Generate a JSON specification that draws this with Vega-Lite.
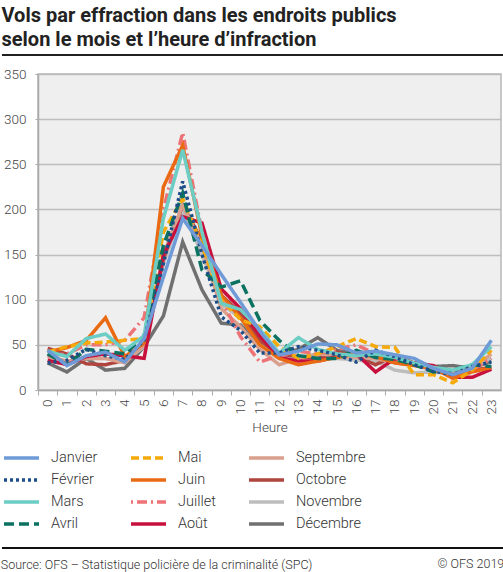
{
  "$schema": "https://vega.github.io/schema/vega-lite/v6.json",
  "padding": {"left": 0, "top": 4, "right": 0, "bottom": 0},
  "background": "white",
  "title": {
    "text": "© OFS 2019",
    "orient": "bottom",
    "anchor": "end",
    "offset": -14,
    "dx": -2,
    "font": "Roboto",
    "fontSize": 12.5,
    "fontWeight": 300,
    "color": "#333"
  },
  "vconcat": [
    {
      "title": {
        "text": "Source: OFS – Statistique policière de la criminalité (SPC)",
        "orient": "bottom",
        "anchor": "start",
        "offset": 10,
        "font": "Roboto",
        "fontSize": 12.5,
        "fontWeight": 300,
        "color": "#333"
      },
      "vconcat": [
        {
          "title": {
            "text": ["Vols par effraction dans les endroits publics", "selon le mois et l’heure d’infraction"],
            "anchor": "start",
            "frame": "bounds",
            "font": "Roboto",
            "fontSize": 20,
            "fontWeight": "bold",
            "lineHeight": 24,
            "color": "#222",
            "offset": 5
          },
          "width": 463,
          "height": 316,
          "data": {
            "values": [
              {"mois": "Décembre", "heure": 0, "vols": 30}, {"mois": "Décembre", "heure": 1, "vols": 20}, {"mois": "Décembre", "heure": 2, "vols": 35}, {"mois": "Décembre", "heure": 3, "vols": 22}, {"mois": "Décembre", "heure": 4, "vols": 24}, {"mois": "Décembre", "heure": 5, "vols": 48}, {"mois": "Décembre", "heure": 6, "vols": 82}, {"mois": "Décembre", "heure": 7, "vols": 164}, {"mois": "Décembre", "heure": 8, "vols": 111}, {"mois": "Décembre", "heure": 9, "vols": 74}, {"mois": "Décembre", "heure": 10, "vols": 72}, {"mois": "Décembre", "heure": 11, "vols": 52}, {"mois": "Décembre", "heure": 12, "vols": 40}, {"mois": "Décembre", "heure": 13, "vols": 45}, {"mois": "Décembre", "heure": 14, "vols": 58}, {"mois": "Décembre", "heure": 15, "vols": 44}, {"mois": "Décembre", "heure": 16, "vols": 40}, {"mois": "Décembre", "heure": 17, "vols": 38}, {"mois": "Décembre", "heure": 18, "vols": 32}, {"mois": "Décembre", "heure": 19, "vols": 30}, {"mois": "Décembre", "heure": 20, "vols": 26}, {"mois": "Décembre", "heure": 21, "vols": 27}, {"mois": "Décembre", "heure": 22, "vols": 24}, {"mois": "Décembre", "heure": 23, "vols": 32},
              {"mois": "Novembre", "heure": 0, "vols": 40}, {"mois": "Novembre", "heure": 1, "vols": 30}, {"mois": "Novembre", "heure": 2, "vols": 35}, {"mois": "Novembre", "heure": 3, "vols": 35}, {"mois": "Novembre", "heure": 4, "vols": 32}, {"mois": "Novembre", "heure": 5, "vols": 48}, {"mois": "Novembre", "heure": 6, "vols": 140}, {"mois": "Novembre", "heure": 7, "vols": 200}, {"mois": "Novembre", "heure": 8, "vols": 150}, {"mois": "Novembre", "heure": 9, "vols": 95}, {"mois": "Novembre", "heure": 10, "vols": 80}, {"mois": "Novembre", "heure": 11, "vols": 50}, {"mois": "Novembre", "heure": 12, "vols": 35}, {"mois": "Novembre", "heure": 13, "vols": 36}, {"mois": "Novembre", "heure": 14, "vols": 40}, {"mois": "Novembre", "heure": 15, "vols": 35}, {"mois": "Novembre", "heure": 16, "vols": 33}, {"mois": "Novembre", "heure": 17, "vols": 32}, {"mois": "Novembre", "heure": 18, "vols": 22}, {"mois": "Novembre", "heure": 19, "vols": 19}, {"mois": "Novembre", "heure": 20, "vols": 20}, {"mois": "Novembre", "heure": 21, "vols": 18}, {"mois": "Novembre", "heure": 22, "vols": 25}, {"mois": "Novembre", "heure": 23, "vols": 35},
              {"mois": "Octobre", "heure": 0, "vols": 46}, {"mois": "Octobre", "heure": 1, "vols": 40}, {"mois": "Octobre", "heure": 2, "vols": 29}, {"mois": "Octobre", "heure": 3, "vols": 28}, {"mois": "Octobre", "heure": 4, "vols": 33}, {"mois": "Octobre", "heure": 5, "vols": 50}, {"mois": "Octobre", "heure": 6, "vols": 145}, {"mois": "Octobre", "heure": 7, "vols": 205}, {"mois": "Octobre", "heure": 8, "vols": 165}, {"mois": "Octobre", "heure": 9, "vols": 105}, {"mois": "Octobre", "heure": 10, "vols": 85}, {"mois": "Octobre", "heure": 11, "vols": 55}, {"mois": "Octobre", "heure": 12, "vols": 40}, {"mois": "Octobre", "heure": 13, "vols": 37}, {"mois": "Octobre", "heure": 14, "vols": 35}, {"mois": "Octobre", "heure": 15, "vols": 42}, {"mois": "Octobre", "heure": 16, "vols": 37}, {"mois": "Octobre", "heure": 17, "vols": 28}, {"mois": "Octobre", "heure": 18, "vols": 38}, {"mois": "Octobre", "heure": 19, "vols": 30}, {"mois": "Octobre", "heure": 20, "vols": 25}, {"mois": "Octobre", "heure": 21, "vols": 18}, {"mois": "Octobre", "heure": 22, "vols": 22}, {"mois": "Octobre", "heure": 23, "vols": 25},
              {"mois": "Septembre", "heure": 0, "vols": 37}, {"mois": "Septembre", "heure": 1, "vols": 32}, {"mois": "Septembre", "heure": 2, "vols": 35}, {"mois": "Septembre", "heure": 3, "vols": 35}, {"mois": "Septembre", "heure": 4, "vols": 30}, {"mois": "Septembre", "heure": 5, "vols": 50}, {"mois": "Septembre", "heure": 6, "vols": 150}, {"mois": "Septembre", "heure": 7, "vols": 205}, {"mois": "Septembre", "heure": 8, "vols": 160}, {"mois": "Septembre", "heure": 9, "vols": 90}, {"mois": "Septembre", "heure": 10, "vols": 70}, {"mois": "Septembre", "heure": 11, "vols": 45}, {"mois": "Septembre", "heure": 12, "vols": 28}, {"mois": "Septembre", "heure": 13, "vols": 35}, {"mois": "Septembre", "heure": 14, "vols": 40}, {"mois": "Septembre", "heure": 15, "vols": 38}, {"mois": "Septembre", "heure": 16, "vols": 36}, {"mois": "Septembre", "heure": 17, "vols": 35}, {"mois": "Septembre", "heure": 18, "vols": 30}, {"mois": "Septembre", "heure": 19, "vols": 28}, {"mois": "Septembre", "heure": 20, "vols": 22}, {"mois": "Septembre", "heure": 21, "vols": 18}, {"mois": "Septembre", "heure": 22, "vols": 24}, {"mois": "Septembre", "heure": 23, "vols": 40},
              {"mois": "Août", "heure": 0, "vols": 33}, {"mois": "Août", "heure": 1, "vols": 28}, {"mois": "Août", "heure": 2, "vols": 37}, {"mois": "Août", "heure": 3, "vols": 40}, {"mois": "Août", "heure": 4, "vols": 38}, {"mois": "Août", "heure": 5, "vols": 35}, {"mois": "Août", "heure": 6, "vols": 150}, {"mois": "Août", "heure": 7, "vols": 192}, {"mois": "Août", "heure": 8, "vols": 185}, {"mois": "Août", "heure": 9, "vols": 112}, {"mois": "Août", "heure": 10, "vols": 90}, {"mois": "Août", "heure": 11, "vols": 60}, {"mois": "Août", "heure": 12, "vols": 36}, {"mois": "Août", "heure": 13, "vols": 32}, {"mois": "Août", "heure": 14, "vols": 32}, {"mois": "Août", "heure": 15, "vols": 37}, {"mois": "Août", "heure": 16, "vols": 40}, {"mois": "Août", "heure": 17, "vols": 20}, {"mois": "Août", "heure": 18, "vols": 35}, {"mois": "Août", "heure": 19, "vols": 30}, {"mois": "Août", "heure": 20, "vols": 27}, {"mois": "Août", "heure": 21, "vols": 14}, {"mois": "Août", "heure": 22, "vols": 14}, {"mois": "Août", "heure": 23, "vols": 23},
              {"mois": "Juillet", "heure": 0, "vols": 38}, {"mois": "Juillet", "heure": 1, "vols": 40}, {"mois": "Juillet", "heure": 2, "vols": 50}, {"mois": "Juillet", "heure": 3, "vols": 50}, {"mois": "Juillet", "heure": 4, "vols": 55}, {"mois": "Juillet", "heure": 5, "vols": 80}, {"mois": "Juillet", "heure": 6, "vols": 200}, {"mois": "Juillet", "heure": 7, "vols": 285}, {"mois": "Juillet", "heure": 8, "vols": 175}, {"mois": "Juillet", "heure": 9, "vols": 100}, {"mois": "Juillet", "heure": 10, "vols": 59}, {"mois": "Juillet", "heure": 11, "vols": 31}, {"mois": "Juillet", "heure": 12, "vols": 38}, {"mois": "Juillet", "heure": 13, "vols": 43}, {"mois": "Juillet", "heure": 14, "vols": 40}, {"mois": "Juillet", "heure": 15, "vols": 45}, {"mois": "Juillet", "heure": 16, "vols": 50}, {"mois": "Juillet", "heure": 17, "vols": 40}, {"mois": "Juillet", "heure": 18, "vols": 35}, {"mois": "Juillet", "heure": 19, "vols": 30}, {"mois": "Juillet", "heure": 20, "vols": 22}, {"mois": "Juillet", "heure": 21, "vols": 17}, {"mois": "Juillet", "heure": 22, "vols": 22}, {"mois": "Juillet", "heure": 23, "vols": 35},
              {"mois": "Juin", "heure": 0, "vols": 42}, {"mois": "Juin", "heure": 1, "vols": 47}, {"mois": "Juin", "heure": 2, "vols": 55}, {"mois": "Juin", "heure": 3, "vols": 80}, {"mois": "Juin", "heure": 4, "vols": 37}, {"mois": "Juin", "heure": 5, "vols": 52}, {"mois": "Juin", "heure": 6, "vols": 225}, {"mois": "Juin", "heure": 7, "vols": 271}, {"mois": "Juin", "heure": 8, "vols": 170}, {"mois": "Juin", "heure": 9, "vols": 105}, {"mois": "Juin", "heure": 10, "vols": 80}, {"mois": "Juin", "heure": 11, "vols": 50}, {"mois": "Juin", "heure": 12, "vols": 35}, {"mois": "Juin", "heure": 13, "vols": 28}, {"mois": "Juin", "heure": 14, "vols": 32}, {"mois": "Juin", "heure": 15, "vols": 36}, {"mois": "Juin", "heure": 16, "vols": 40}, {"mois": "Juin", "heure": 17, "vols": 37}, {"mois": "Juin", "heure": 18, "vols": 30}, {"mois": "Juin", "heure": 19, "vols": 27}, {"mois": "Juin", "heure": 20, "vols": 24}, {"mois": "Juin", "heure": 21, "vols": 13}, {"mois": "Juin", "heure": 22, "vols": 20}, {"mois": "Juin", "heure": 23, "vols": 25},
              {"mois": "Mai", "heure": 0, "vols": 42}, {"mois": "Mai", "heure": 1, "vols": 48}, {"mois": "Mai", "heure": 2, "vols": 52}, {"mois": "Mai", "heure": 3, "vols": 53}, {"mois": "Mai", "heure": 4, "vols": 55}, {"mois": "Mai", "heure": 5, "vols": 57}, {"mois": "Mai", "heure": 6, "vols": 175}, {"mois": "Mai", "heure": 7, "vols": 212}, {"mois": "Mai", "heure": 8, "vols": 160}, {"mois": "Mai", "heure": 9, "vols": 100}, {"mois": "Mai", "heure": 10, "vols": 78}, {"mois": "Mai", "heure": 11, "vols": 70}, {"mois": "Mai", "heure": 12, "vols": 48}, {"mois": "Mai", "heure": 13, "vols": 35}, {"mois": "Mai", "heure": 14, "vols": 40}, {"mois": "Mai", "heure": 15, "vols": 48}, {"mois": "Mai", "heure": 16, "vols": 57}, {"mois": "Mai", "heure": 17, "vols": 48}, {"mois": "Mai", "heure": 18, "vols": 47}, {"mois": "Mai", "heure": 19, "vols": 17}, {"mois": "Mai", "heure": 20, "vols": 17}, {"mois": "Mai", "heure": 21, "vols": 8}, {"mois": "Mai", "heure": 22, "vols": 22}, {"mois": "Mai", "heure": 23, "vols": 44},
              {"mois": "Avril", "heure": 0, "vols": 40}, {"mois": "Avril", "heure": 1, "vols": 28}, {"mois": "Avril", "heure": 2, "vols": 45}, {"mois": "Avril", "heure": 3, "vols": 43}, {"mois": "Avril", "heure": 4, "vols": 40}, {"mois": "Avril", "heure": 5, "vols": 60}, {"mois": "Avril", "heure": 6, "vols": 160}, {"mois": "Avril", "heure": 7, "vols": 218}, {"mois": "Avril", "heure": 8, "vols": 133}, {"mois": "Avril", "heure": 9, "vols": 114}, {"mois": "Avril", "heure": 10, "vols": 121}, {"mois": "Avril", "heure": 11, "vols": 77}, {"mois": "Avril", "heure": 12, "vols": 55}, {"mois": "Avril", "heure": 13, "vols": 38}, {"mois": "Avril", "heure": 14, "vols": 35}, {"mois": "Avril", "heure": 15, "vols": 35}, {"mois": "Avril", "heure": 16, "vols": 44}, {"mois": "Avril", "heure": 17, "vols": 36}, {"mois": "Avril", "heure": 18, "vols": 34}, {"mois": "Avril", "heure": 19, "vols": 28}, {"mois": "Avril", "heure": 20, "vols": 20}, {"mois": "Avril", "heure": 21, "vols": 22}, {"mois": "Avril", "heure": 22, "vols": 28}, {"mois": "Avril", "heure": 23, "vols": 26},
              {"mois": "Mars", "heure": 0, "vols": 43}, {"mois": "Mars", "heure": 1, "vols": 37}, {"mois": "Mars", "heure": 2, "vols": 57}, {"mois": "Mars", "heure": 3, "vols": 62}, {"mois": "Mars", "heure": 4, "vols": 44}, {"mois": "Mars", "heure": 5, "vols": 60}, {"mois": "Mars", "heure": 6, "vols": 190}, {"mois": "Mars", "heure": 7, "vols": 266}, {"mois": "Mars", "heure": 8, "vols": 175}, {"mois": "Mars", "heure": 9, "vols": 96}, {"mois": "Mars", "heure": 10, "vols": 89}, {"mois": "Mars", "heure": 11, "vols": 67}, {"mois": "Mars", "heure": 12, "vols": 41}, {"mois": "Mars", "heure": 13, "vols": 58}, {"mois": "Mars", "heure": 14, "vols": 45}, {"mois": "Mars", "heure": 15, "vols": 40}, {"mois": "Mars", "heure": 16, "vols": 38}, {"mois": "Mars", "heure": 17, "vols": 40}, {"mois": "Mars", "heure": 18, "vols": 36}, {"mois": "Mars", "heure": 19, "vols": 30}, {"mois": "Mars", "heure": 20, "vols": 25}, {"mois": "Mars", "heure": 21, "vols": 22}, {"mois": "Mars", "heure": 22, "vols": 28}, {"mois": "Mars", "heure": 23, "vols": 48},
              {"mois": "Février", "heure": 0, "vols": 30}, {"mois": "Février", "heure": 1, "vols": 33}, {"mois": "Février", "heure": 2, "vols": 45}, {"mois": "Février", "heure": 3, "vols": 38}, {"mois": "Février", "heure": 4, "vols": 34}, {"mois": "Février", "heure": 5, "vols": 55}, {"mois": "Février", "heure": 6, "vols": 140}, {"mois": "Février", "heure": 7, "vols": 231}, {"mois": "Février", "heure": 8, "vols": 150}, {"mois": "Février", "heure": 9, "vols": 81}, {"mois": "Février", "heure": 10, "vols": 66}, {"mois": "Février", "heure": 11, "vols": 41}, {"mois": "Février", "heure": 12, "vols": 41}, {"mois": "Février", "heure": 13, "vols": 48}, {"mois": "Février", "heure": 14, "vols": 44}, {"mois": "Février", "heure": 15, "vols": 39}, {"mois": "Février", "heure": 16, "vols": 31}, {"mois": "Février", "heure": 17, "vols": 44}, {"mois": "Février", "heure": 18, "vols": 37}, {"mois": "Février", "heure": 19, "vols": 28}, {"mois": "Février", "heure": 20, "vols": 21}, {"mois": "Février", "heure": 21, "vols": 17}, {"mois": "Février", "heure": 22, "vols": 26}, {"mois": "Février", "heure": 23, "vols": 31},
              {"mois": "Janvier", "heure": 0, "vols": 44}, {"mois": "Janvier", "heure": 1, "vols": 27}, {"mois": "Janvier", "heure": 2, "vols": 38}, {"mois": "Janvier", "heure": 3, "vols": 42}, {"mois": "Janvier", "heure": 4, "vols": 31}, {"mois": "Janvier", "heure": 5, "vols": 57}, {"mois": "Janvier", "heure": 6, "vols": 125}, {"mois": "Janvier", "heure": 7, "vols": 190}, {"mois": "Janvier", "heure": 8, "vols": 160}, {"mois": "Janvier", "heure": 9, "vols": 128}, {"mois": "Janvier", "heure": 10, "vols": 97}, {"mois": "Janvier", "heure": 11, "vols": 65}, {"mois": "Janvier", "heure": 12, "vols": 39}, {"mois": "Janvier", "heure": 13, "vols": 43}, {"mois": "Janvier", "heure": 14, "vols": 51}, {"mois": "Janvier", "heure": 15, "vols": 50}, {"mois": "Janvier", "heure": 16, "vols": 41}, {"mois": "Janvier", "heure": 17, "vols": 43}, {"mois": "Janvier", "heure": 18, "vols": 39}, {"mois": "Janvier", "heure": 19, "vols": 35}, {"mois": "Janvier", "heure": 20, "vols": 24}, {"mois": "Janvier", "heure": 21, "vols": 17}, {"mois": "Janvier", "heure": 22, "vols": 24}, {"mois": "Janvier", "heure": 23, "vols": 55}
            ]
          },
          "layer": [
            {
              "mark": {"type": "line", "strokeJoin": "miter", "strokeCap": "butt"},
              "encoding": {
                "x": {
                  "field": "heure",
                  "type": "quantitative",
                  "scale": {"domain": [-0.5, 23.5], "nice": false, "zero": false},
                  "axis": {
                    "title": "Heure",
                    "values": [0, 1, 2, 3, 4, 5, 6, 7, 8, 9, 10, 11, 12, 13, 14, 15, 16, 17, 18, 19, 20, 21, 22, 23],
                    "tickCount": 30,
                    "labelAngle": 270,
                    "labelAlign": "right",
                    "labelBaseline": "middle",
                    "labelOverlap": false,
                    "labelFlush": false,
                    "labelPadding": 4,
                    "tickOffset": -9.65,
                    "labelOffset": 9.65,
                    "tickSize": 5,
                    "grid": false,
                    "titlePadding": 7
                  }
                },
                "y": {
                  "field": "vols",
                  "type": "quantitative",
                  "scale": {"domain": [0, 350], "nice": false},
                  "axis": {
                    "title": null,
                    "values": [0, 50, 100, 150, 200, 250, 300, 350],
                    "tickCount": 10,
                    "tickSize": 3,
                    "labelPadding": 9
                  }
                },
                "color": {
                  "field": "mois",
                  "type": "nominal",
                  "scale": {
                    "domain": ["Janvier", "Février", "Mars", "Avril", "Mai", "Juin", "Juillet", "Août", "Septembre", "Octobre", "Novembre", "Décembre"],
                    "range": ["#6e9bd8", "#1d4e89", "#6ccdc5", "#0b7160", "#f5a90a", "#ea6a13", "#ed7377", "#c8103c", "#d9a08d", "#b0453f", "#bdbdbd", "#707070"]
                  },
                  "legend": {"title": null}
                },
                "strokeDash": {
                  "field": "mois",
                  "type": "nominal",
                  "scale": {
                    "domain": ["Janvier", "Février", "Mars", "Avril", "Mai", "Juin", "Juillet", "Août", "Septembre", "Octobre", "Novembre", "Décembre"],
                    "range": [[1, 0], [3, 3], [1, 0], [10, 5], [8, 4], [1, 0], [2, 4, 10, 4], [1, 0], [1, 0], [1, 0], [1, 0], [1, 0]]
                  },
                  "legend": {"title": null}
                },
                "strokeWidth": {
                  "field": "mois",
                  "type": "nominal",
                  "scale": {
                    "domain": ["Janvier", "Février", "Mars", "Avril", "Mai", "Juin", "Juillet", "Août", "Septembre", "Octobre", "Novembre", "Décembre"],
                    "range": [3.5, 3.5, 3.5, 3, 2, 2, 2, 3, 3.5, 4.5, 4.5, 3]
                  },
                  "legend": {"title": null}
                }
              }
            },
            {
              "mark": {"type": "rule", "clip": false, "color": "#222", "strokeWidth": 1},
              "encoding": {
                "x": {"datum": -2.366},
                "x2": {"datum": 23.71},
                "y": {"datum": 371}
              }
            },
            {
              "mark": {"type": "rule", "clip": false, "color": "#111", "strokeWidth": 1},
              "encoding": {
                "x": {"datum": -2.366},
                "x2": {"datum": 23.71},
                "y": {"datum": -175}
              }
            }
          ]
        }
      ]
    }
  ],
  "config": {
    "font": "Roboto",
    "view": {"fill": "#efefef", "stroke": "#b8b8b8", "strokeWidth": 1.5},
    "axis": {
      "labelFont": "Roboto",
      "labelFontSize": 13.5,
      "labelFontWeight": 300,
      "labelColor": "#444",
      "titleFont": "Roboto",
      "titleFontSize": 13.5,
      "titleFontWeight": 300,
      "titleColor": "#444",
      "domainColor": "#aaa",
      "domainWidth": 1.5,
      "tickColor": "#aaa",
      "gridColor": "#bdbdbd",
      "gridWidth": 1.5
    },
    "legend": {
      "orient": "none",
      "legendX": -36,
      "legendY": 376,
      "columns": 3,
      "columnPadding": 31,
      "rowPadding": 6,
      "symbolType": "stroke",
      "symbolSize": 1225,
      "clipHeight": 16,
      "labelFont": "Roboto",
      "labelFontSize": 14.5,
      "labelFontWeight": 300,
      "labelColor": "#333",
      "labelOffset": 10
    }
  }
}
